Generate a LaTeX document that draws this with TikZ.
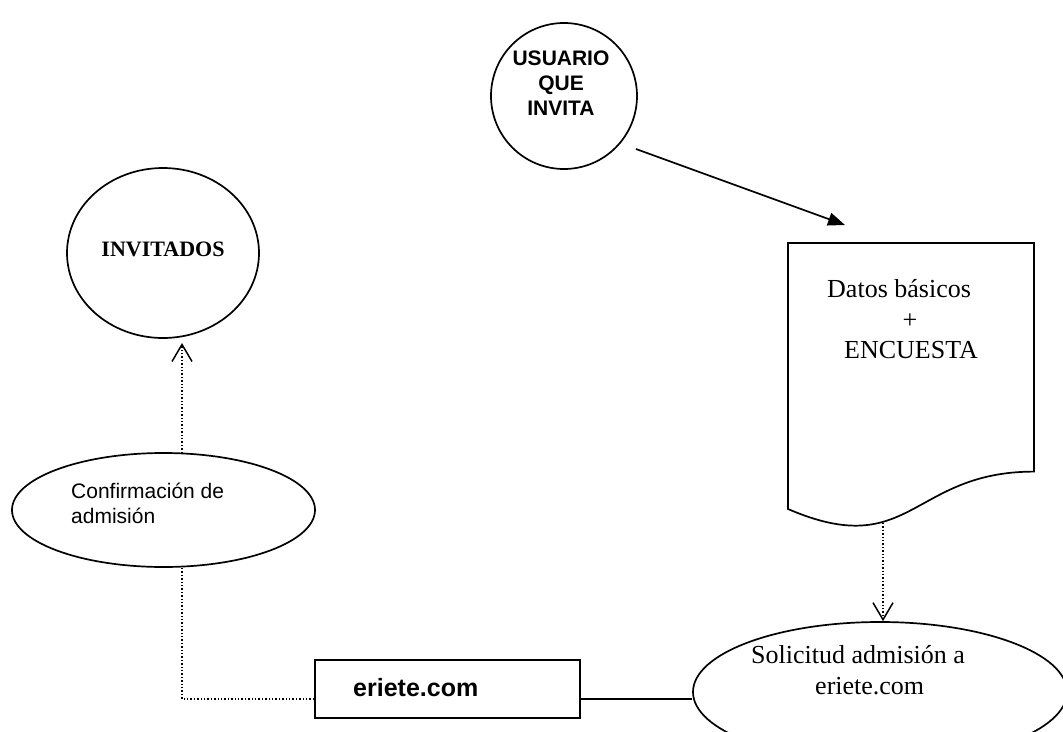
\documentclass[tikz,border=0pt]{standalone}
\usepackage{fontspec}
\setmainfont{Liberation Serif}
\setsansfont{Liberation Sans}
\usetikzlibrary{shapes.geometric,arrows.meta}

\begin{document}
\begin{tikzpicture}[x=1pt,y=-1pt,
  outline/.style={draw, line width=1.7pt},
  bubble/.style={outline, ellipse, inner sep=0pt},
  flow/.style={line width=1.7pt},
  dotline/.style={line width=1.4pt, dash pattern=on 1.4pt off 2pt},
  openhead/.style={-{Straight Barb[length=17pt,width=20pt,line width=1.5pt]}},
  solidhead/.style={-{Triangle[length=17pt,width=13pt]}},
  txt/.style={inner sep=0pt, anchor=base west},
  ctxt/.style={inner sep=0pt, anchor=base},
  serifbig/.style={font=\fontsize{26}{30}\selectfont},
  sanssmall/.style={font=\sffamily\fontsize{21}{25}\selectfont},
  sansbold/.style={font=\sffamily\bfseries\fontsize{21}{25}\selectfont},
]
\clip (0,0) rectangle (1063,731);
\fill[white] (0,0) rectangle (1063,731);

% inviting user
\node[bubble, minimum width=146pt, minimum height=146pt] (usuario) at (564,96) {};
\node[ctxt, sansbold] (usuario-1) at (561,65) {USUARIO};
\node[ctxt, sansbold] (usuario-2) at (561,90) {QUE};
\node[ctxt, sansbold] (usuario-3) at (561,115) {INVITA};

% guests
\node[bubble, minimum width=192pt, minimum height=170pt] (invitados) at (163,253) {};
\node[ctxt, font=\bfseries\fontsize{22}{26}\selectfont] (invitados-t) at (163,256) {INVITADOS};

% admission confirmation
\node[bubble, minimum width=303pt, minimum height=114pt] (confirm) at (163.5,510) {};
\node[txt, sanssmall] (confirm-1) at (71,498) {Confirmación de};
\node[txt, sanssmall] (confirm-2) at (71,523) {admisión};

% document with basic data and survey
\draw[outline] (788,243) -- (1034,243) -- (1034,471.6)
  .. controls (911,471.6) and (911,562) .. (788,509) -- cycle;
\node[txt, serifbig] (doc-1) at (827,297) {Datos básicos};
\node[ctxt, serifbig] (doc-2) at (910,328) {+};
\node[txt, serifbig] (doc-3) at (844,358) {ENCUESTA};
\coordinate (docB) at (883,523);

% admission request
\node[bubble, minimum width=374pt, minimum height=140pt] (solicitud) at (880,692) {};
\node[txt, serifbig] (solicitud-1) at (751,663) {Solicitud admisión a};
\node[txt, serifbig] (solicitud-2) at (815,694) {eriete.com};

% site box
\node[outline, rectangle, inner sep=0pt, minimum width=265pt, minimum height=58pt] (eriete) at (447.5,689) {};
\node[txt, font=\sffamily\bfseries\fontsize{25}{29}\selectfont] (eriete-t) at (353,696) {eriete.com};

% connectors
\coordinate (uA) at (636,149);
\coordinate (dA) at (845,225);
\draw[flow, solidhead] (uA) -- (dA);

\draw[dotline, openhead] (docB) -- (docB |- solicitud.north);

\draw[flow] ([yshift=-10pt]eriete.east) -- ([yshift=-10pt]eriete.east -| solicitud.west);

\coordinate (confB) at (182,567);
\coordinate (confT) at (182,453);
\coordinate (invB) at (182,343);
\draw[dotline] ([yshift=-10pt]eriete.west) -| (confB);
\draw[dotline, openhead] (confT) -- (invB);
\end{tikzpicture}
\end{document}
